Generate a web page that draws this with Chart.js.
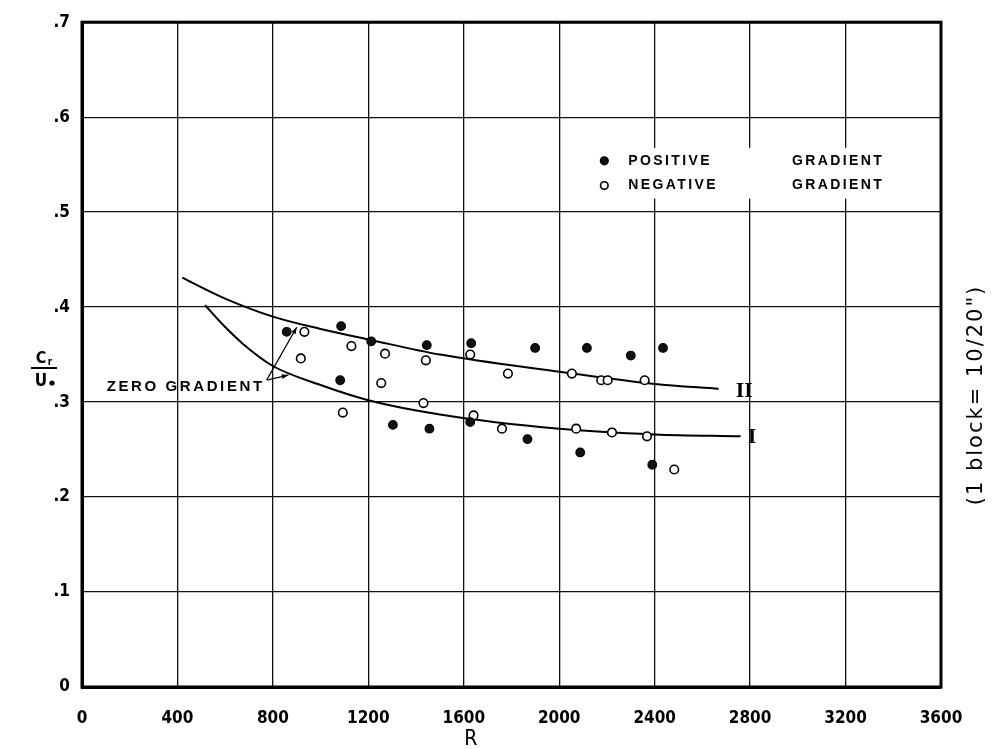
<!DOCTYPE html>
<html>
<head>
<meta charset="utf-8">
<script src="https://cdn.jsdelivr.net/npm/chart.js@4.4.1/dist/chart.umd.min.js"></script>
<style>
html,body{margin:0;padding:0;background:#fff;}
#wrap{width:994px;height:749px;}
canvas{display:block;}
</style>
</head>
<body>
<div id="wrap"><canvas id="c" width="994" height="749"></canvas></div>
<script>
// ---- data ----
const xTickLabels = ['0','400','800','1200','1600','2000','2400','2800','3200','3600'];
const yTickLabels = ['0','.1','.2','.3','.4','.5','.6','.7'];

const positiveR = [858,1086,1082,1212,1445,1303,1456,1631,1899,2116,2300,2435,1627,1867,2088,2390];
const positiveY = [.374,.380,.323,.364,.360,.276,.272,.362,.357,.357,.349,.357,.279,.261,.247,.234];

const negativeR = [932,917,1129,1093,1270,1441,1254,1431,1627,1785,2053,2176,2203,2358,1641,1760,2071,2221,2368,2482];
const negativeY = [.374,.346,.359,.289,.351,.344,.320,.299,.350,.330,.330,.323,.323,.323,.286,.272,.272,.268,.264,.229];

const curveIIR = [420,600,800,1000,1200,1500,2000,2400,2668];
const curveIIY = [.431,.409,.390,.377,.366,.350,.332,.319,.314];
const curveIR  = [516,600,676,800,1000,1200,1500,2000,2400,2760];
const curveIY  = [.402,.379,.361,.338,.318,.302,.287,.272,.266,.264];

const seriesNames = ['POSITIVE','NEGATIVE'];
const legendWord = 'GRADIENT';
const curveLabels = ['II','I'];

const toPts = (xs, ys) => xs.map((x,i)=>({x:x, y:ys[i]}));

const FONT = '"DejaVu Sans Condensed","DejaVu Sans",sans-serif';

const decor = {
  id:'decor',
  beforeDraw(chart){
    const ctx = chart.ctx;
    ctx.save();
    ctx.fillStyle = '#fff';
    ctx.fillRect(0,0,chart.width,chart.height);
    ctx.restore();
  },
  beforeDatasetsDraw(chart){
    // white-out the grid behind the legend block
    const ctx = chart.ctx, xs = chart.scales.x, ys = chart.scales.y;
    const x0 = xs.getPixelForValue(2189) - 12, y0 = ys.getPixelForValue(0.554) - 13;
    const y1 = ys.getPixelForValue(0.528) + 13;
    ctx.save();
    ctx.fillStyle = '#fff';
    ctx.fillRect(x0, y0, 298, y1 - y0);
    ctx.restore();
  },
  afterDraw(chart){
    const ctx = chart.ctx, xs = chart.scales.x, ys = chart.scales.y, a = chart.chartArea;
    const px = v => xs.getPixelForValue(v), py = v => ys.getPixelForValue(v);
    ctx.save();
    // frame
    ctx.strokeStyle = '#000'; ctx.lineWidth = 3;
    ctx.strokeRect(a.left, a.top, a.right - a.left, a.bottom - a.top);

    // legend
    const lx = px(2189), rows = [py(0.554), py(0.528)];
    rows.forEach((yy, i) => {
      ctx.beginPath();
      ctx.arc(lx, yy, 3.8, 0, Math.PI*2);
      ctx.lineWidth = 1.6; ctx.strokeStyle = '#000';
      ctx.fillStyle = i === 0 ? '#111' : '#fff';
      ctx.fill(); ctx.stroke();
      ctx.fillStyle = '#000';
      ctx.font = 'bold 14px "Liberation Sans",Arial,sans-serif';
      try { ctx.letterSpacing = '2.4px'; } catch(e) {}
      ctx.textBaseline = 'middle'; ctx.textAlign = 'left';
      ctx.fillText(seriesNames[i], lx + 24, yy);
      ctx.textAlign = 'right';
      ctx.fillText(legendWord, lx + 280, yy);
      try { ctx.letterSpacing = '0px'; } catch(e) {}
    });

    // curve labels
    ctx.font = 'bold 22px "Liberation Serif",serif';
    ctx.textAlign = 'left'; ctx.textBaseline = 'middle';
    ctx.fillText(curveLabels[0], px(2740), py(0.3115));
    ctx.fillText(curveLabels[1], px(2790), py(0.2625));

    // ZERO GRADIENT annotation
    ctx.font = 'bold 15px "Liberation Sans",Arial,sans-serif';
    try { ctx.letterSpacing = '2.6px'; } catch(e) {}
    ctx.textAlign = 'right'; ctx.textBaseline = 'middle';
    const ax = px(774), ay = py(0.3232);
    ctx.fillText('ZERO GRADIENT', ax - 2, py(0.316));
    try { ctx.letterSpacing = '0px'; } catch(e) {}
    const arrow = (x1,y1,x2,y2) => {
      ctx.beginPath(); ctx.moveTo(x1,y1); ctx.lineTo(x2,y2);
      ctx.lineWidth = 1.3; ctx.strokeStyle = '#000'; ctx.stroke();
      const ang = Math.atan2(y2-y1, x2-x1), L = 7;
      ctx.beginPath();
      ctx.moveTo(x2,y2);
      ctx.lineTo(x2 - L*Math.cos(ang-0.35), y2 - L*Math.sin(ang-0.35));
      ctx.lineTo(x2 - L*Math.cos(ang+0.35), y2 - L*Math.sin(ang+0.35));
      ctx.closePath(); ctx.fillStyle = '#000'; ctx.fill();
    };
    arrow(ax, ay, px(900), py(0.3788));
    arrow(ax, ay, px(865), py(0.3284));

    // y-axis title: C_r / U_o
    const tx = 44, ty = 368;
    ctx.fillStyle = '#000';
    ctx.font = 'bold 16px ' + FONT;
    ctx.textAlign = 'center'; ctx.textBaseline = 'alphabetic';
    ctx.fillText('C', tx - 3, ty - 5);
    ctx.font = 'bold 10px ' + FONT;
    ctx.fillText('r', tx + 6, ty - 3);
    ctx.beginPath(); ctx.moveTo(tx - 13, ty); ctx.lineTo(tx + 13, ty);
    ctx.lineWidth = 2; ctx.stroke();
    ctx.font = 'bold 17px ' + FONT;
    ctx.fillText('U', tx - 3, ty + 18);
    ctx.beginPath(); ctx.arc(tx + 8, ty + 15, 2.6, 0, Math.PI*2); ctx.fill();

    // x-axis title
    ctx.font = '21px ' + FONT;
    ctx.textAlign = 'center'; ctx.textBaseline = 'middle';
    ctx.fillText('R', px(1630), 740);

    // right note
    ctx.translate(977, 395);
    ctx.rotate(-Math.PI/2);
    ctx.font = '21px "DejaVu Sans",sans-serif';
    try { ctx.letterSpacing = '2px'; } catch(e) {}
    ctx.textAlign = 'center'; ctx.textBaseline = 'middle';
    ctx.fillText('(1 block= 10/20")', 0, 0);
    ctx.restore();
  }
};

new Chart(document.getElementById('c'), {
  type: 'scatter',
  data: {
    datasets: [
      { label: 'POSITIVE GRADIENT', data: toPts(positiveR, positiveY),
        pointRadius: 4.3, pointBackgroundColor: '#111', pointBorderColor: '#000', pointBorderWidth: 1.2, order: 1 },
      { label: 'NEGATIVE GRADIENT', data: toPts(negativeR, negativeY),
        pointRadius: 4.3, pointBackgroundColor: '#fff', pointBorderColor: '#000', pointBorderWidth: 1.6, order: 1 },
      { label: 'II', type: 'line', data: toPts(curveIIR, curveIIY), showLine: true,
        pointRadius: 0, borderColor: '#000', borderWidth: 2, cubicInterpolationMode: 'monotone', fill: false, order: 2 },
      { label: 'I', type: 'line', data: toPts(curveIR, curveIY), showLine: true,
        pointRadius: 0, borderColor: '#000', borderWidth: 2, cubicInterpolationMode: 'monotone', fill: false, order: 2 }
    ]
  },
  options: {
    responsive: false,
    animation: false,
    devicePixelRatio: 1,
    layout: { padding: { left: 0, right: 53, top: 15, bottom: 0 } },
    plugins: { legend: { display: false }, tooltip: { enabled: false } },
    scales: {
      x: {
        type: 'linear', min: 0, max: 3600,
        afterFit: s => { s.height = 62; },
        afterBuildTicks: s => { s.ticks = xTickLabels.map(t => ({ value: +t })); },
        ticks: { color: '#000', font: { family: FONT, size: 17, weight: 'bold' }, padding: 21,
                 callback: (v, i) => xTickLabels[i], maxRotation: 0 },
        grid: { color: '#111', lineWidth: 1.3, drawTicks: false },
        border: { display: true, color: '#000', width: 3 }
      },
      y: {
        type: 'linear', min: 0, max: 0.7,
        afterFit: s => { s.width = 82; },
        afterBuildTicks: s => { s.ticks = yTickLabels.map((t, i) => ({ value: i / 10 })); },
        ticks: { color: '#000', font: { family: FONT, size: 17, weight: 'bold' }, padding: 12,
                 callback: (v, i) => yTickLabels[i] },
        grid: { color: '#111', lineWidth: 1.3, drawTicks: false },
        border: { display: true, color: '#000', width: 3 }
      }
    }
  },
  plugins: [decor]
});
</script>
</body>
</html>
